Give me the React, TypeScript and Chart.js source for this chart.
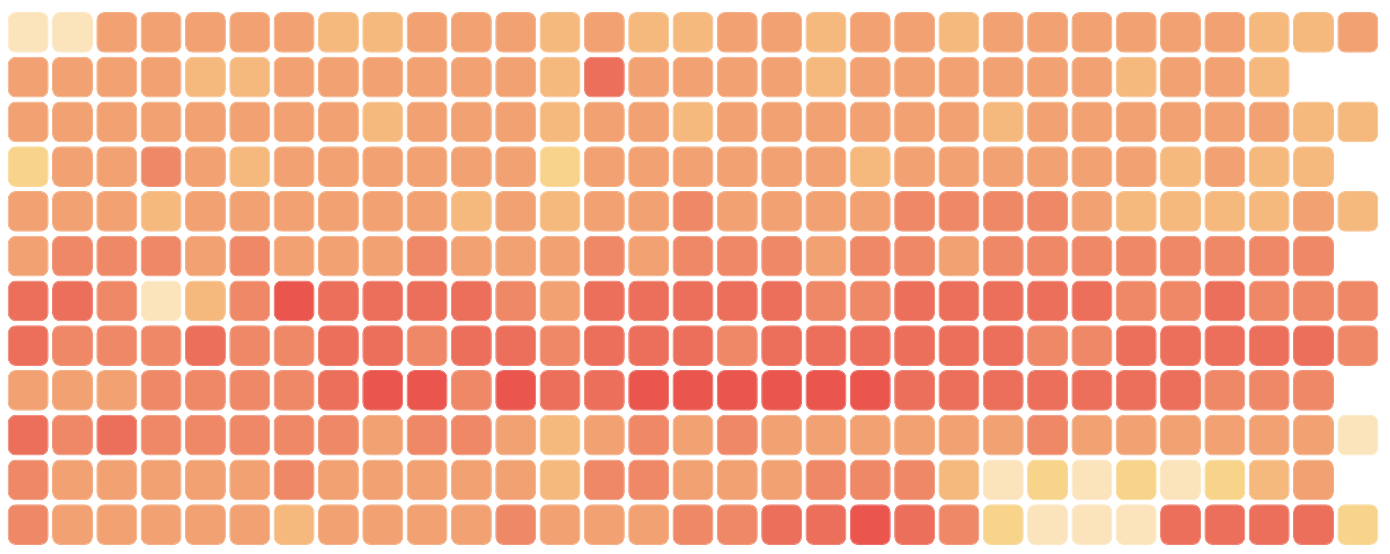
import React, { useEffect, useRef } from "react";
import { Chart, registerables } from "chart.js";

Chart.register(...registerables);

// Calendar heatmap: one row per month, one column per day (leap year)
const months = ["Jan", "Feb", "Mar", "Apr", "May", "Jun", "Jul", "Aug", "Sep", "Oct", "Nov", "Dec"];
const days = Array.from({ length: 31 }, (_, i) => String(i + 1));

// Colour level read for each day (0 = lowest, 6 = highest)
const jan = [0, 0, 3, 3, 3, 3, 3, 2, 2, 3, 3, 3, 2, 3, 2, 2, 3, 3, 2, 3, 3, 2, 3, 3, 3, 3, 3, 3, 2, 2, 3];
const feb = [3, 3, 3, 3, 2, 2, 3, 3, 3, 3, 3, 3, 2, 5, 3, 3, 3, 3, 2, 3, 3, 3, 3, 3, 3, 2, 3, 3, 2];
const mar = [3, 3, 3, 3, 3, 3, 3, 3, 2, 3, 3, 3, 2, 3, 3, 2, 3, 3, 3, 3, 3, 3, 2, 3, 3, 3, 3, 3, 3, 2, 2];
const apr = [1, 3, 3, 4, 3, 2, 3, 3, 3, 3, 3, 3, 1, 3, 3, 3, 3, 3, 3, 2, 3, 3, 3, 3, 3, 3, 2, 3, 2, 2];
const may = [3, 3, 3, 2, 3, 3, 3, 3, 3, 3, 2, 3, 2, 3, 3, 4, 3, 3, 3, 3, 4, 4, 4, 4, 3, 2, 2, 2, 2, 3, 2];
const jun = [3, 4, 4, 4, 3, 4, 3, 3, 3, 4, 3, 3, 3, 4, 3, 4, 4, 4, 3, 4, 4, 3, 4, 4, 4, 4, 4, 4, 4, 4];
const jul = [5, 5, 4, 0, 2, 4, 6, 5, 5, 5, 5, 4, 3, 5, 5, 5, 5, 5, 4, 4, 5, 5, 5, 5, 5, 4, 4, 5, 4, 4, 4];
const aug = [5, 4, 4, 4, 5, 4, 4, 5, 5, 4, 5, 5, 4, 5, 5, 5, 4, 5, 5, 5, 5, 5, 5, 4, 4, 5, 5, 5, 5, 5, 4];
const sep = [3, 3, 3, 4, 4, 4, 4, 5, 6, 6, 4, 6, 5, 5, 6, 6, 6, 6, 6, 6, 5, 5, 5, 5, 5, 5, 5, 4, 4, 4];
const oct = [5, 4, 5, 4, 4, 4, 4, 4, 3, 4, 4, 3, 2, 3, 4, 3, 4, 3, 3, 3, 3, 3, 3, 4, 3, 3, 3, 3, 3, 3, 0];
const nov = [4, 3, 3, 3, 3, 3, 4, 3, 3, 3, 3, 3, 2, 4, 4, 3, 3, 3, 4, 4, 4, 2, 0, 1, 0, 1, 0, 1, 2, 3];
const dec = [4, 3, 3, 3, 3, 3, 2, 3, 3, 3, 3, 4, 3, 3, 3, 4, 4, 5, 5, 6, 5, 4, 1, 0, 0, 0, 5, 5, 5, 5, 1];

const monthValues = [jan, feb, mar, apr, may, jun, jul, aug, sep, oct, nov, dec];

const palette = ["#fbe4bb", "#f8d38a", "#f5b97e", "#f2a272", "#ef8867", "#ec6f5b", "#ea564e"];

function lighten(hex: string, t: number): string {
  const n = parseInt(hex.slice(1), 16);
  const r = (n >> 16) & 255, g = (n >> 8) & 255, b = n & 255;
  const m = (c: number) => Math.round(c + (255 - c) * t);
  return `rgb(${m(r)},${m(g)},${m(b)})`;
}

export default function App() {
  const ref = useRef<HTMLCanvasElement | null>(null);

  useEffect(() => {
    if (!ref.current) return;
    const pad = 0.042;
    const datasets = monthValues.map((vals, r) => ({
      label: months[r],
      data: vals.map(() => [r + pad, r + 1 - pad]),
      backgroundColor: vals.map((v) => palette[v]),
      borderColor: vals.map((v) => lighten(palette[v], 0.15)),
      borderWidth: 1,
      borderRadius: 8,
      borderSkipped: false,
      grouped: false,
      barPercentage: 0.925,
      categoryPercentage: 1,
    }));

    const chart = new Chart(ref.current, {
      type: "bar",
      data: { labels: days, datasets: datasets as any },
      options: {
        animation: false,
        responsive: true,
        maintainAspectRatio: false,
        layout: { padding: 0 },
        plugins: { legend: { display: false }, tooltip: { enabled: false } },
        scales: {
          x: { type: "category", display: false, offset: true, grid: { display: false } },
          y: { type: "linear", display: false, min: 0, max: 12, reverse: true, grid: { display: false } },
        },
      },
    });
    return () => chart.destroy();
  }, []);

  return (
    <div style={{ position: "absolute", left: 6, top: 10, width: 1374, height: 537 }}>
      <canvas ref={ref} />
    </div>
  );
}
